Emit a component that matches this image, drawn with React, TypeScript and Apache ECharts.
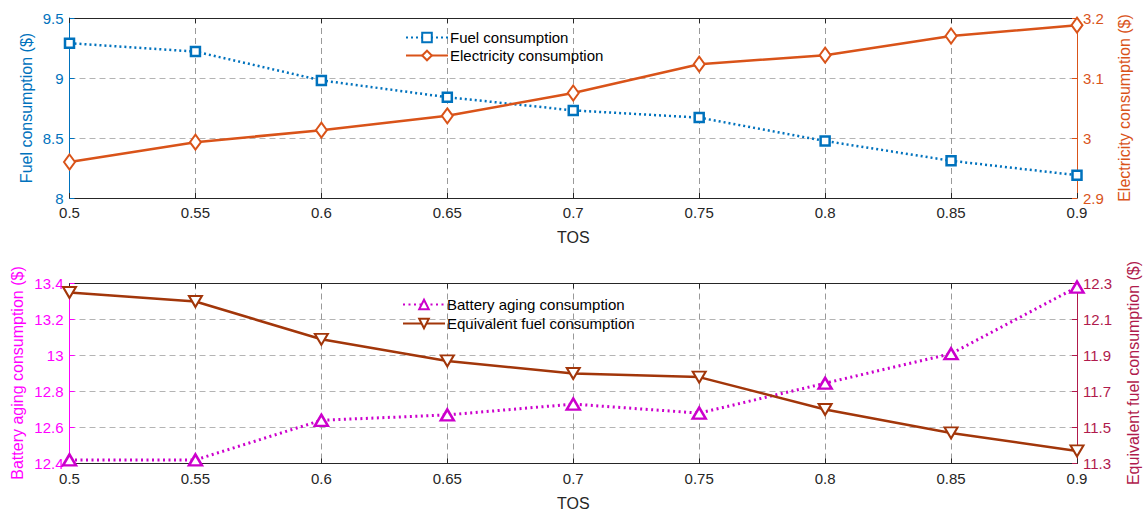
import React, { useEffect, useRef } from "react";
import * as echarts from "echarts";

const tos = ["0.5", "0.55", "0.6", "0.65", "0.7", "0.75", "0.8", "0.85", "0.9"];
const fuel = [9.29, 9.22, 8.98, 8.84, 8.73, 8.67, 8.475, 8.31, 8.19];
const electricity = [2.96, 2.993, 3.013, 3.037, 3.075, 3.123, 3.138, 3.17, 3.188];
const batteryAging = [12.42, 12.42, 12.64, 12.67, 12.73, 12.68, 12.846, 13.01, 13.38];
const equivalentFuel = [12.25, 12.2, 11.99, 11.87, 11.8, 11.78, 11.6, 11.47, 11.37];
const equivTicks = [11.3, 11.5, 11.7, 11.9, 12.1, 12.3];

const FONT = "'Liberation Sans', Arial, sans-serif";
const BLUE = "#0072BD";
const ORANGE = "#D95319";
const MAGENTA = "#FF00FF";
const MAG_SERIES = "#CC00CC";
const BROWN = "#A2360A";
const CRIMSON = "#B01A4C";
const DARK = "#262626";

export default function App() {
  const ref = useRef<HTMLDivElement>(null);
  useEffect(() => {
    if (!ref.current) return;
    const chart = echarts.init(ref.current, null, { renderer: "svg" });
    const gridSplit = { show: true, lineStyle: { color: "#b4b4b4", type: [6, 4], width: 1 } };
    const xBottom = (gi: number, gap: number) => ({
      type: "category",
      gridIndex: gi,
      data: tos,
      boundaryGap: false,
      name: "TOS",
      nameLocation: "middle",
      nameGap: gap,
      nameTextStyle: { color: DARK, fontSize: 16, fontFamily: FONT },
      axisLine: { lineStyle: { color: DARK, width: 1 } },
      axisTick: { inside: true, length: 5, lineStyle: { color: DARK } },
      axisLabel: { color: DARK, fontSize: 15, fontFamily: FONT, margin: 7 },
      splitLine: { show: true, lineStyle: { color: "#9a9a9a", type: [6, 4], width: 1 } },
    });
    const xTop = (gi: number) => ({
      type: "category",
      gridIndex: gi,
      data: tos,
      boundaryGap: false,
      position: "top",
      axisLine: { lineStyle: { color: DARK, width: 1 } },
      axisTick: { inside: true, length: 5, lineStyle: { color: DARK } },
      axisLabel: { show: false },
      splitLine: { show: false },
    });
    const yAxis = (gi: number, pos: string, color: string, min: number, max: number, interval: number | null, custom?: number[], split = false) => {
      const a: any = {
        type: "value",
        gridIndex: gi,
        position: pos,
        min,
        max,
        axisLine: { show: true, lineStyle: { color, width: 1 } },
        axisTick: { show: true, inside: true, length: 5, lineStyle: { color } },
        axisLabel: { color, fontSize: 15, fontFamily: FONT, margin: 6 },
        splitLine: split ? gridSplit : { show: false },
      };
      if (interval != null) a.interval = interval;
      if (custom) {
        a.axisLabel.customValues = custom;
        a.axisTick.customValues = custom;
      }
      return a;
    };
    const yName = (text: string, x: number, y: number, color: string) => ({
      type: "text",
      x,
      y,
      rotation: Math.PI / 2,
      style: {
        text,
        fill: color,
        fontSize: 16,
        fontFamily: FONT,
        align: "center",
        verticalAlign: "middle",
      },
    });
    chart.setOption({
      animation: false,
      textStyle: { fontFamily: FONT },
      grid: [
        { left: 69.5, right: 69, top: 18, height: 180 },
        { left: 69.5, right: 69, top: 283.5, height: 180 },
      ],
      xAxis: [xBottom(0, 31), xTop(0), xBottom(1, 32), xTop(1)],
      yAxis: [
        yAxis(0, "left", BLUE, 8, 9.5, 0.5, undefined, true),
        yAxis(0, "right", ORANGE, 2.9, 3.2, 0.1),
        yAxis(1, "left", MAGENTA, 12.4, 13.4, 0.2, undefined, true),
        yAxis(1, "right", CRIMSON, 11.3, 12.3, null, equivTicks),
      ],
      graphic: [
        yName("Fuel consumption ($)", 26, 108, BLUE),
        yName("Electricity consumption ($)", 1124, 108, ORANGE),
        yName("Battery aging consumption ($)", 17, 373, MAGENTA),
        yName("Equivalent fuel consumption ($)", 1133, 373, CRIMSON),
      ],
      legend: [
        {
          orient: "vertical",
          left: 400,
          top: 25,
          itemWidth: 42,
          itemHeight: 12,
          itemGap: 3,
          textStyle: { color: "#000", fontSize: 15, fontFamily: FONT, padding: [0, 0, 0, -3] },
          data: ["Fuel consumption", "Electricity consumption"],
        },
        {
          orient: "vertical",
          left: 397,
          top: 292,
          itemWidth: 42,
          itemHeight: 12,
          itemGap: 4,
          textStyle: { color: "#000", fontSize: 15, fontFamily: FONT, padding: [0, 0, 0, -3] },
          data: ["Battery aging consumption", "Equivalent fuel consumption"],
        },
      ],
      series: [
        {
          name: "Fuel consumption",
          type: "line",
          xAxisIndex: 0,
          yAxisIndex: 0,
          data: fuel,
          symbol: "rect",
          symbolSize: 9,
          lineStyle: { color: BLUE, width: 2.5, type: [2, 3] },
          itemStyle: { color: "#fff", borderColor: BLUE, borderWidth: 2.5 },
          z: 3,
        },
        {
          name: "Electricity consumption",
          type: "line",
          xAxisIndex: 0,
          yAxisIndex: 1,
          data: electricity,
          symbol: "diamond",
          symbolSize: [11, 15],
          lineStyle: { color: ORANGE, width: 2.5 },
          itemStyle: { color: "#fff", borderColor: ORANGE, borderWidth: 2 },
          z: 3,
        },
        {
          name: "Battery aging consumption",
          type: "line",
          xAxisIndex: 2,
          yAxisIndex: 2,
          data: batteryAging,
          symbol: "triangle",
          symbolSize: [13, 11],
          lineStyle: { color: MAG_SERIES, width: 3, type: [2, 3.5] },
          itemStyle: { color: "#fff", borderColor: MAG_SERIES, borderWidth: 2.5 },
          z: 3,
        },
        {
          name: "Equivalent fuel consumption",
          type: "line",
          xAxisIndex: 2,
          yAxisIndex: 3,
          data: equivalentFuel,
          symbol: "triangle",
          symbolRotate: 180,
          symbolSize: [13, 11],
          lineStyle: { color: BROWN, width: 2.5 },
          itemStyle: { color: "#fff", borderColor: BROWN, borderWidth: 2 },
          z: 3,
        },
      ],
    });
    return () => chart.dispose();
  }, []);
  return <div ref={ref} style={{ width: 1146, height: 520, position: "absolute", left: 0, top: 0 }} />;
}
